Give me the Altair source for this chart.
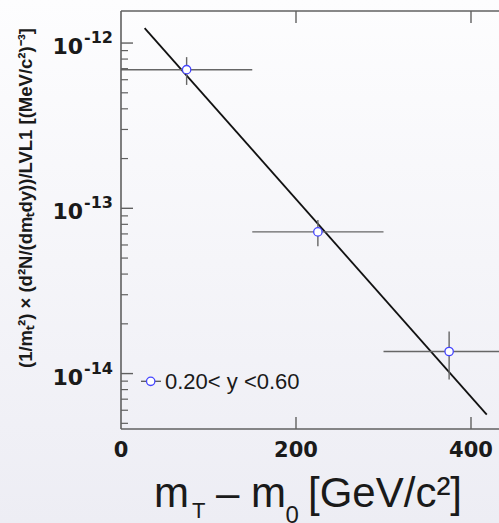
import altair as alt
import pandas as pd

# ---- data ----
bin_lo = [0, 150, 300]
bin_hi = [150, 300, 450]
mt_center = [75, 225, 375]
yield_val = [6.9e-13, 7.2e-14, 1.36e-14]
yield_err = [1.32e-13, 1.3e-14, 4.4e-15]

fit_x = [27, 418]
fit_y = [1.23e-12, 5.65e-15]

x_tick_vals = [200, 400]
x_label_vals = [0, 200, 400]
y_major = [1e-12, 1e-13, 1e-14]
y_major_exp = ["-12", "-13", "-14"]
y_minor = [9e-13, 8e-13, 7e-13, 6e-13, 5e-13, 4e-13, 3e-13, 2e-13,
           9e-14, 8e-14, 7e-14, 6e-14, 5e-14, 4e-14, 3e-14, 2e-14,
           9e-15, 8e-15, 7e-15, 6e-15, 5e-15]
legend_label = "0.20< y <0.60"
y_title = "(1/m\u209c\u00b2) \u00d7 (d\u00b2N/(dm\u209cdy))/LVL1  [(MeV/c\u00b2)\u207b\u00b3]"

W, H = 378, 418
X_DOMAIN = [0, 432]
Y_DOMAIN = [4.62e-15, 1.563e-12]
FRAME = "#606060"
BLUE = "#4545ff"

xs = alt.Scale(domain=X_DOMAIN, nice=False, zero=False)
ys = alt.Scale(type="log", domain=Y_DOMAIN, nice=False)

pts = pd.DataFrame({
    "x": mt_center, "lo": bin_lo, "hi": bin_hi, "y": yield_val,
    "ylo": [v - e for v, e in zip(yield_val, yield_err)],
    "yhi": [v + e for v, e in zip(yield_val, yield_err)],
})
fit = pd.DataFrame({"x": fit_x, "y": fit_y})
dummy = pd.DataFrame({"d": [0]})

bg = alt.Chart(dummy).mark_rect(
    fill={"gradient": "linear", "x1": 0, "y1": 0, "x2": 0, "y2": 1,
          "stops": [{"offset": 0, "color": "#fdfdfe"}, {"offset": 1, "color": "#ededf4"}]}
).encode(x=alt.value(-121), x2=alt.value(W + 5), y=alt.value(-11), y2=alt.value(H + 94))

xerr = alt.Chart(pts).mark_rule(color="#666666", strokeWidth=1.4, clip=True).encode(
    x=alt.X("lo:Q", scale=xs, axis=None), x2="hi:Q",
    y=alt.Y("y:Q", scale=ys, axis=None))
yerr = alt.Chart(pts).mark_rule(color="#666666", strokeWidth=1.4).encode(
    x=alt.X("x:Q", scale=xs, axis=None),
    y=alt.Y("ylo:Q", scale=ys, axis=None), y2="yhi:Q")
fitline = alt.Chart(fit).mark_line(color="#111111", strokeWidth=1.8, clip=True).encode(
    x=alt.X("x:Q", scale=xs, axis=None), y=alt.Y("y:Q", scale=ys, axis=None))
points = alt.Chart(pts).mark_point(shape="circle", size=70, filled=False, fill="#ffffff",
                                   fillOpacity=1, stroke=BLUE, strokeWidth=1.3, opacity=1).encode(
    x=alt.X("x:Q", scale=xs, axis=None), y=alt.Y("y:Q", scale=ys, axis=None))

# frame
frame_left = alt.Chart(dummy).mark_rule(color=FRAME, strokeWidth=1.6).encode(
    x=alt.value(0), y=alt.value(0), y2=alt.value(H))
frame_top = alt.Chart(dummy).mark_rule(color=FRAME, strokeWidth=1.6).encode(
    x=alt.value(0), x2=alt.value(W + 2), y=alt.value(0))
frame_bot = alt.Chart(dummy).mark_rule(color=FRAME, strokeWidth=1.6).encode(
    x=alt.value(0), x2=alt.value(W + 2), y=alt.value(H))

ymaj = pd.DataFrame({"v": y_major, "e": y_major_exp})
ymin = pd.DataFrame({"v": y_minor})
xt = pd.DataFrame({"v": x_tick_vals})
xl = pd.DataFrame({"v": x_label_vals, "t": [str(v) for v in x_label_vals]})

ymaj_ticks = alt.Chart(ymaj).mark_rule(color=FRAME, strokeWidth=1.4).encode(
    x=alt.value(0), x2=alt.value(12), y=alt.Y("v:Q", scale=ys, axis=None))
ymin_ticks = alt.Chart(ymin).mark_rule(color=FRAME, strokeWidth=1.2).encode(
    x=alt.value(0), x2=alt.value(7), y=alt.Y("v:Q", scale=ys, axis=None))
xbot_ticks = alt.Chart(xt).mark_rule(color=FRAME, strokeWidth=1.4).encode(
    x=alt.X("v:Q", scale=xs, axis=None), y=alt.value(H), y2=alt.value(H - 12))
xtop_ticks = alt.Chart(xt).mark_rule(color=FRAME, strokeWidth=1.4).encode(
    x=alt.X("v:Q", scale=xs, axis=None), y=alt.value(0), y2=alt.value(12))

LBL_FONT = "DejaVu Sans"
ylab10 = alt.Chart(ymaj).mark_text(font=LBL_FONT, fontWeight="bold", fontSize=22, align="right",
                                   baseline="middle", dy=4, color="#1a1a1a").encode(
    x=alt.value(-38), y=alt.Y("v:Q", scale=ys, axis=None), text=alt.value("10"))
ylabexp = alt.Chart(ymaj).mark_text(font=LBL_FONT, fontWeight="bold", fontSize=16, align="left",
                                    baseline="middle", dy=-5, color="#1a1a1a").encode(
    x=alt.value(-37), y=alt.Y("v:Q", scale=ys, axis=None), text="e:N")
xlab = alt.Chart(xl).mark_text(font=LBL_FONT, fontWeight="bold", fontSize=21, align="center",
                               baseline="middle", color="#1a1a1a").encode(
    x=alt.X("v:Q", scale=xs, axis=None), y=alt.value(H + 21.5), text="t:N")

ytitle = alt.Chart(dummy).mark_text(font="Liberation Sans", fontWeight="bold", fontSize=18.5,
                                    angle=270, align="center", baseline="middle",
                                    color="#1a1a1a", text=y_title).encode(
    x=alt.value(-95), y=alt.value(187))

TF = "Liberation Sans"
TC = "#1a1a1a"
def tpiece(txt, x, y, size):
    return alt.Chart(dummy).mark_text(font=TF, fontSize=size, align="left", baseline="alphabetic",
                                      color=TC, text=txt).encode(x=alt.value(x), y=alt.value(y))

xt_m = tpiece("m", 33, 496, 42)
xt_T = tpiece("T", 71, 507, 22)
xt_dash = tpiece("\u2013 m", 95, 496, 42)
xt_0 = tpiece("0", 164.5, 512, 24)
xt_unit = tpiece("[GeV/c\u00b2]", 187, 496, 42)

# legend
leg_line = alt.Chart(dummy).mark_rule(color="#555555", strokeWidth=1.3).encode(
    x=alt.value(20), x2=alt.value(40), y=alt.value(370.3))
leg_pt = alt.Chart(dummy).mark_point(shape="circle", size=70, filled=False, fill="#ffffff",
                                     fillOpacity=1, stroke=BLUE, strokeWidth=1.3).encode(
    x=alt.value(29.7), y=alt.value(370.3))
leg_txt = alt.Chart(dummy).mark_text(font="Liberation Sans", fontSize=22, align="left",
                                     baseline="alphabetic", color=TC, text=legend_label).encode(
    x=alt.value(44), y=alt.value(377.5))

chart = alt.layer(
    bg, fitline, xerr, yerr, points,
    ymaj_ticks, ymin_ticks, xbot_ticks, xtop_ticks,
    frame_left, frame_top, frame_bot,
    ylab10, ylabexp, xlab, ytitle,
    xt_m, xt_T, xt_dash, xt_0, xt_unit,
    leg_line, leg_pt, leg_txt,
).properties(
    width=W, height=H,
    padding={"left": 121, "top": 11, "right": 0, "bottom": 94},
    autosize=alt.AutoSizeParams(type="none"),
    background="#f4f4f8",
).configure_view(stroke=None)

chart.save("out.html", embed_options={"renderer": "svg", "actions": False})
